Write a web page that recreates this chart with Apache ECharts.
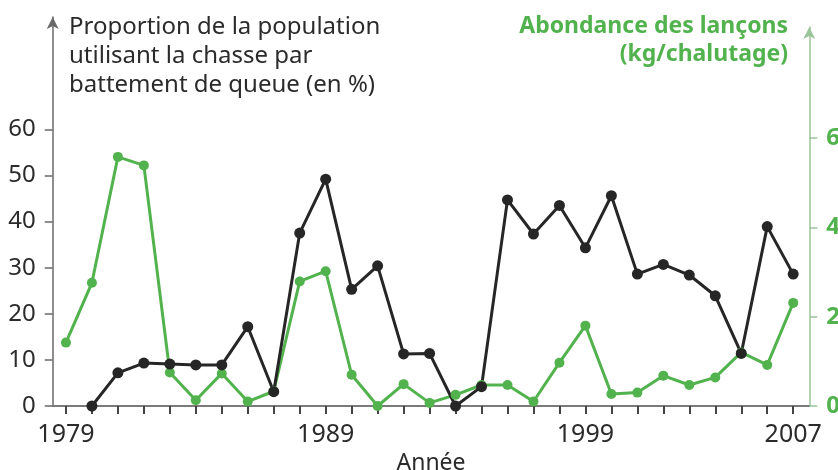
<!DOCTYPE html>
<html>
<head>
<meta charset="utf-8">
<script src="https://cdn.jsdelivr.net/npm/echarts@6/dist/echarts.min.js"></script>
<style>
html, body {
  margin: 0;
  padding: 0;
  background: #fff;
}
#chart {
  width: 838px;
  height: 470px;
}
</style>
</head>
<body>
<div id="chart"></div>
<script>
// years on the x axis
const years = [1979, 1980, 1981, 1982, 1983, 1984, 1985, 1986, 1987, 1988,
  1989, 1990, 1991, 1992, 1993, 1994, 1995, 1996, 1997, 1998,
  1999, 2000, 2001, 2002, 2003, 2004, 2005, 2006, 2007]
// % of population using tail-slap hunting (no value for 1979)
const proportion = [null, 0, 7.2, 9.3, 9.1, 8.9, 8.9, 17.2, 3.1, 37.5,
  49.2, 25.3, 30.4, 11.3, 11.4, 0, 4.2, 44.7, 37.3, 43.5,
  34.3, 45.6, 28.6, 30.7, 28.4, 23.9, 11.4, 38.9, 28.6]
// sand eel abundance (kg/trawl)
const abundance = [1.42, 2.76, 5.58, 5.39, 0.75, 0.13, 0.73, 0.1, 0.33, 2.79,
  3.02, 0.7, 0, 0.49, 0.07, 0.25, 0.47, 0.47, 0.1, 0.97,
  1.8, 0.27, 0.3, 0.68, 0.47, 0.64, 1.2, 0.92, 2.31]
const yearLabels = [1979, 1989, 1999, 2007]
const leftTicks = [0, 10, 20, 30, 40, 50, 60]
const rightTicks = [0, 2, 4, 6]

const font = '"Noto Sans", Roboto, sans-serif'
const black = '#262626'
const green = '#52b34e'

const chart = echarts.init(document.getElementById('chart'))

const option = {
  animation: false,
  graphic: [
    {
      type: 'text',
      left: 69,
      top: 13,
      style: {
        text: 'Proportion de la population\nutilisant la chasse par\nbattement de queue (en %)',
        font: '24px ' + font,
        lineHeight: 29,
        fill: '#2b2b2b'
      }
    },
    // right title, one element per line so both lines end at the same x
    {
      type: 'text',
      right: 50,
      top: 15,
      style: {
        text: 'Abondance des lançons',
        font: 'bold 23px ' + font,
        fill: green
      }
    },
    {
      type: 'text',
      right: 50,
      top: 43,
      style: {
        text: '(kg/chalutage)',
        font: 'bold 23px ' + font,
        fill: green
      }
    }
  ],
  grid: [
    { left: 52.7, right: 28.7, top: 17, bottom: 64, outerBoundsMode: 'none' },
    { left: 52.7, right: 28.7, top: 27, bottom: 64, outerBoundsMode: 'none' }
  ],
  xAxis: [
    {
      type: 'value',
      gridIndex: 0,
      min: 1978.49,
      max: 2007.62,
      name: 'Année',
      nameLocation: 'middle',
      nameGap: 38,
      nameTextStyle: { fontFamily: font, fontSize: 23, color: '#2b2b2b' },
      splitLine: { show: false },
      axisLine: { lineStyle: { color: '#7a7a7a', width: 2 } },
      axisTick: {
        customValues: years,
        length: 8,
        lineStyle: { color: '#444', width: 2 }
      },
      axisLabel: {
        customValues: yearLabels,
        formatter: v => String(v),
        margin: 16,
        fontFamily: font,
        fontSize: 25,
        color: '#2b2b2b'
      }
    },
    {
      type: 'value',
      gridIndex: 1,
      min: 1978.49,
      max: 2007.62,
      show: false
    }
  ],
  yAxis: [
    {
      type: 'value',
      gridIndex: 0,
      min: 0,
      max: 84.36,
      splitLine: { show: false },
      axisLine: {
        show: true,
        symbol: ['none', 'arrow'],
        symbolSize: [9, 12],
        lineStyle: { color: '#6a6a6a', width: 1.5 }
      },
      axisTick: {
        show: true,
        customValues: leftTicks,
        length: 8,
        lineStyle: { color: '#6a6a6a', width: 1.5 }
      },
      axisLabel: {
        customValues: leftTicks,
        margin: 17,
        fontFamily: font,
        fontSize: 24,
        color: '#2b2b2b'
      }
    },
    {
      type: 'value',
      gridIndex: 1,
      position: 'right',
      min: 0,
      max: 8.49,
      splitLine: { show: false },
      axisLine: {
        show: true,
        symbol: ['none', 'arrow'],
        symbolSize: [9, 12],
        lineStyle: { color: '#9cc49a', width: 1.5 }
      },
      axisTick: {
        show: true,
        customValues: rightTicks,
        length: 8,
        lineStyle: { color: '#9cc49a', width: 1.5 }
      },
      axisLabel: {
        customValues: rightTicks,
        margin: 17,
        fontFamily: font,
        fontSize: 24,
        fontWeight: 'bold',
        color: green
      }
    }
  ],
  series: [
    {
      name: 'Abondance',
      type: 'line',
      xAxisIndex: 1,
      yAxisIndex: 1,
      data: years.map((y, i) => [y, abundance[i]]),
      symbol: 'circle',
      symbolSize: 10,
      itemStyle: { color: green },
      lineStyle: { color: green, width: 3 }
    },
    {
      name: 'Proportion',
      type: 'line',
      xAxisIndex: 0,
      yAxisIndex: 0,
      data: years.map((y, i) => [y, proportion[i]]),
      symbol: 'circle',
      symbolSize: 11,
      itemStyle: { color: black },
      lineStyle: { color: black, width: 3 }
    }
  ]
}

chart.setOption(option)
</script>
</body>
</html>
